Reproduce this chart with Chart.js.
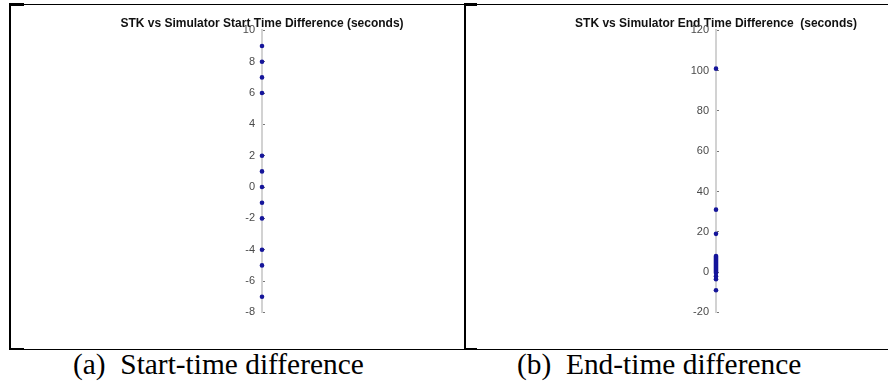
<!DOCTYPE html>
<html>
<head>
<meta charset="utf-8">
<script src="https://cdn.jsdelivr.net/npm/chart.js@4.4.1/dist/chart.umd.min.js"></script>
<style>
  html, body { margin: 0; padding: 0; background: #fff; }
  body { width: 888px; height: 383px; position: relative; overflow: hidden; }
  .ln { position: absolute; background: #000; }
  canvas { position: absolute; }
  .cap { position: absolute; font-family: "Liberation Serif", "DejaVu Serif", serif; font-size: 29.4px; line-height: 29px; color: #000; white-space: pre; }
</style>
</head>
<body>
<!-- table borders -->
<div class="ln" style="left:9px;top:4px;width:879px;height:1px;"></div>
<div class="ln" style="left:9px;top:3px;width:15px;height:3px;"></div>
<div class="ln" style="left:9px;top:3px;width:2px;height:347px;"></div>
<div class="ln" style="left:9px;top:349px;width:879px;height:1px;"></div>
<div class="ln" style="left:9px;top:348px;width:15px;height:2px;"></div>
<div class="ln" style="left:464px;top:4px;width:2px;height:345px;"></div>
<div class="ln" style="left:464px;top:3px;width:13px;height:3px;"></div>
<div class="ln" style="left:464px;top:348px;width:13px;height:2px;"></div>

<canvas id="c1" width="380" height="321" style="left:72px;top:8px;"></canvas>
<canvas id="c2" width="340" height="321" style="left:546px;top:8px;"></canvas>

<div class="cap" style="left:73px;top:350px;">(a)  Start-time difference</div>
<div class="cap" style="left:517px;top:350px;">(b)  End-time difference</div>

<script>
// ---- data ----
const titleStart = 'STK vs Simulator Start Time Difference (seconds)';
const titleEnd = 'STK vs Simulator End Time Difference  (seconds)';
const startDiff = [9, 8, 7, 6, 2, 1, 0, -1, -2, -4, -5, -7];
const endDiff = [101, 31, 19, 8, 7.5, 7, 6.5, 6, 5.5, 5, 4.5, 4, 3.5, 3, 2.5, 2, 1.5, 1, 0.5, 0, -0.5, -2, -3.5, -9];
const startTicks = { min: -8, max: 10, step: 2 };
const endTicks = { min: -20, max: 120, step: 20 };

function makeChart(id, title, values, ticks, axisWidth) {
  return new Chart(document.getElementById(id), {
    type: 'scatter',
    data: {
      datasets: [{
        data: values.map(v => ({ x: 0, y: v })),
        backgroundColor: '#15159a',
        borderColor: '#15159a',
        pointRadius: 2.3,
        pointBorderWidth: 0,
        pointHoverRadius: 2.3,
        clip: false
      }]
    },
    options: {
      responsive: false,
      animation: false,
      devicePixelRatio: 1,
      layout: { padding: { left: 0, right: 0, top: 0, bottom: 10 } },
      plugins: {
        legend: { display: false },
        tooltip: { enabled: false },
        title: {
          display: true,
          text: title,
          color: '#111',
          font: { family: '"Liberation Sans", Arial, sans-serif', size: 12, weight: 'bold' },
          padding: { top: 8, bottom: 0 }
        }
      },
      scales: {
        x: { type: 'linear', min: 0, max: 1, display: false },
        y: {
          type: 'linear',
          min: ticks.min,
          max: ticks.max,
          afterFit: (s) => { s.width = axisWidth; },
          ticks: {
            stepSize: ticks.step,
            color: '#4a4a4a',
            padding: 10,
            font: { family: '"Liberation Sans", Arial, sans-serif', size: 11 }
          },
          grid: {
            drawOnChartArea: false,
            drawTicks: true,
            tickLength: -3,
            color: '#777',
            lineWidth: 1
          },
          border: { display: true, color: '#d2d2d2', width: 2 }
        }
      }
    }
  });
}

makeChart('c1', titleStart, startDiff, startTicks, 190);
makeChart('c2', titleEnd, endDiff, endTicks, 170);
</script>
</body>
</html>
